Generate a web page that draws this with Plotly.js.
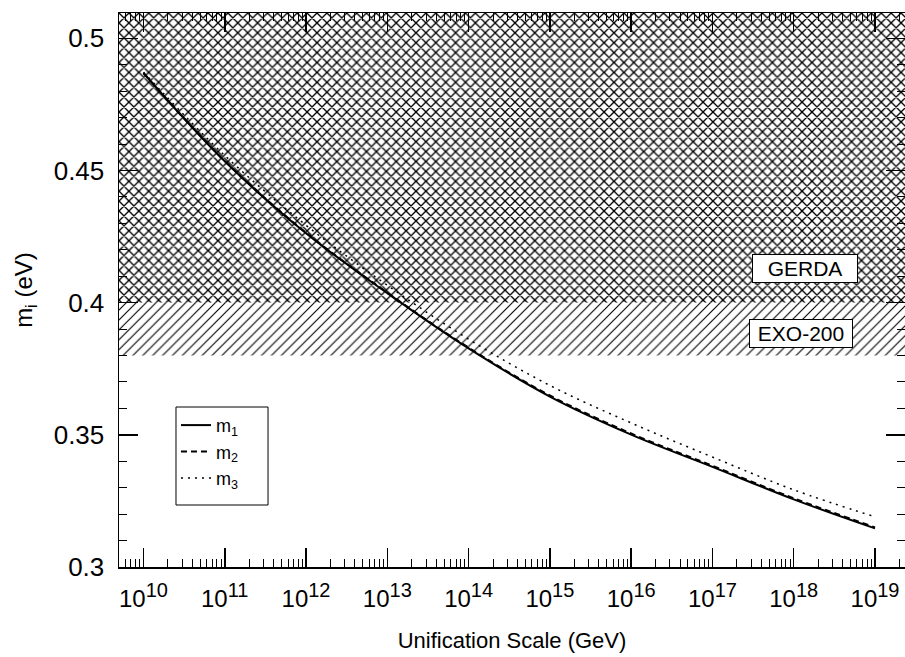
<!DOCTYPE html>
<html>
<head>
<meta charset="utf-8">
<script src="https://cdn.plot.ly/plotly-3.0.1.min.js"></script>
<style>html,body{margin:0;padding:0;background:#fff;overflow:hidden;}</style>
</head>
<body>
<div id="chart" style="width:905px;height:657px;"></div>
<script>
// Unification scale (GeV)
const scaleGeV = [1e10, 1e11, 1e12, 1e13, 1e14, 1e15, 1e16, 1e17, 1e18, 1e19];
// Neutrino masses (eV)
const m1 = [0.4869, 0.4535, 0.4263, 0.4036, 0.3827, 0.3645, 0.3501, 0.3379, 0.3256, 0.3146];
const m2 = [0.4869, 0.4536, 0.4265, 0.4038, 0.3830, 0.3649, 0.3505, 0.3383, 0.3260, 0.3150];
const m3 = [0.4872, 0.4557, 0.4293, 0.4066, 0.3862, 0.3687, 0.3545, 0.3416, 0.3292, 0.3190];
// Experimental exclusion bands (eV)
const bandX = [1e9, 1e21, 1e21, 1e9];
const gerdaBand = [0.40, 0.40, 0.60, 0.60];
const exoBand = [0.38, 0.38, 0.40, 0.40];
const seriesNames = ['m<sub>1</sub>', 'm<sub>2</sub>', 'm<sub>3</sub>'];
const xTickVals = [1e10, 1e11, 1e12, 1e13, 1e14, 1e15, 1e16, 1e17, 1e18, 1e19];
const xTickExp = ['10', '11', '12', '13', '14', '15', '16', '17', '18', '19'];
const yTickVals = [0.3, 0.35, 0.4, 0.45, 0.5];
const yTickText = ['0.3', '0.35', '0.4', '0.45', '0.5'];

const FONT = 'Liberation Sans, Arial, sans-serif';
const xTickText = xTickExp.map(e => '10<sup><span style="font-size:20px">' + e + '</span></sup>');

const traces = [
  {x: bandX, y: gerdaBand, type: 'scatter', mode: 'none', fill: 'toself',
   fillpattern: {shape: 'x', size: 7, solidity: 0.35, fgcolor: '#000', bgcolor: '#fff'},
   hoverinfo: 'skip', showlegend: false},
  {x: bandX, y: exoBand, type: 'scatter', mode: 'none', fill: 'toself',
   fillpattern: {shape: '/', size: 7, solidity: 0.16, fgcolor: '#000', bgcolor: '#fff'},
   hoverinfo: 'skip', showlegend: false},
  {x: scaleGeV, y: m1, type: 'scatter', mode: 'lines', name: seriesNames[0],
   line: {color: '#000', width: 2, shape: 'spline', smoothing: 1}},
  {x: scaleGeV, y: m2, type: 'scatter', mode: 'lines', name: seriesNames[1],
   line: {color: '#000', width: 2, dash: '6px,4px', shape: 'spline', smoothing: 1}},
  {x: scaleGeV, y: m3, type: 'scatter', mode: 'lines', name: seriesNames[2],
   line: {color: '#000', width: 1.5, dash: '2px,5px', shape: 'spline', smoothing: 1}}
];

const layout = {
  width: 905, height: 657,
  margin: {l: 119, r: 0, t: 13, b: 90},
  paper_bgcolor: '#fff', plot_bgcolor: '#fff',
  font: {family: FONT, color: '#000', size: 22},
  showlegend: true,
  legend: {x: 0.0725, y: 0.289, xanchor: 'left', yanchor: 'top',
           bgcolor: 'rgba(0,0,0,0)', borderwidth: 0,
           font: {family: FONT, size: 18, color: '#000'}},
  shapes: [
    {type: 'rect', xref: 'paper', yref: 'paper', x0: 0.0725, x1: 0.1896, y0: 0.1119, y1: 0.2888,
     line: {color: '#000', width: 1}, fillcolor: '#fff', layer: 'below'}
  ],
  xaxis: {
    type: 'log', range: [9.699, 19.369], autorange: false,
    tickvals: xTickVals, ticktext: xTickText,
    ticks: 'inside', ticklen: 19, tickwidth: 1.5, tickcolor: '#000',
    minor: {ticks: 'inside', ticklen: 8, tickwidth: 1, tickcolor: '#000', dtick: 'D1', showgrid: false},
    showline: true, linecolor: '#000', linewidth: 1.5, mirror: 'allticks',
    showgrid: false, zeroline: false,
    ticklabelstandoff: 10,
    tickfont: {family: FONT, size: 24, color: '#000'},
    title: {text: 'Unification Scale (GeV)', font: {family: FONT, size: 22, color: '#000'}, standoff: 21}
  },
  yaxis: {
    range: [0.3, 0.5096], autorange: false,
    tickvals: yTickVals, ticktext: yTickText,
    ticks: 'inside', ticklen: 19, tickwidth: 1.5, tickcolor: '#000',
    minor: {ticks: 'inside', ticklen: 8, tickwidth: 1, tickcolor: '#000', dtick: 0.01, showgrid: false},
    showline: true, linecolor: '#000', linewidth: 1.5, mirror: 'allticks',
    showgrid: false, zeroline: false,
    ticklabelstandoff: 8,
    tickfont: {family: FONT, size: 26, color: '#000'},
    title: {text: 'm<sub>i</sub> (eV)', font: {family: FONT, size: 24, color: '#000'}, standoff: 14}
  },
  annotations: [
    {text: 'GERDA', xref: 'paper', yref: 'paper', x: 0.8728, y: 0.5388,
     xanchor: 'center', yanchor: 'middle', showarrow: false,
     font: {family: FONT, size: 21, color: '#000'},
     bgcolor: '#fff', bordercolor: '#000', borderwidth: 1, borderpad: 4, width: 96, height: 19},
    {text: 'EXO-200', xref: 'paper', yref: 'paper', x: 0.8677, y: 0.4215,
     xanchor: 'center', yanchor: 'middle', showarrow: false,
     font: {family: FONT, size: 21, color: '#000'},
     bgcolor: '#fff', bordercolor: '#000', borderwidth: 1, borderpad: 4, width: 94, height: 19}
  ]
};

Plotly.newPlot('chart', traces, layout, {displayModeBar: false, staticPlot: true});
</script>
</body>
</html>
